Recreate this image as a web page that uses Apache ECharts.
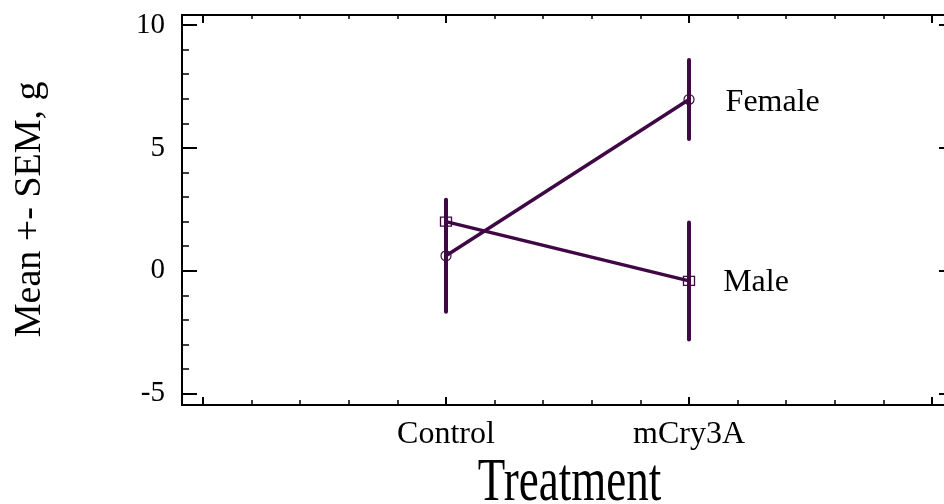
<!DOCTYPE html>
<html>
<head>
<meta charset="utf-8">
<script src="https://cdn.jsdelivr.net/npm/echarts@6/dist/echarts.min.js"></script>
<style>
html, body { margin: 0; padding: 0; background: #fff; }
#main { width: 944px; height: 504px; }
</style>
</head>
<body>
<div id="main"></div>
<script>
// data
const categories = ['Control', 'mCry3A'];
const xPos = [1, 2];
const femaleMean = [0.61, 6.97];
const femaleSem = [2.28, 1.61];
const maleMean = [2.0, -0.41];
const maleSem = [0.85, 2.38];

const serif = '"Liberation Serif", "Times New Roman", serif';
const ink = '#3f0845';

function points (means) {
  return xPos.map((x, i) => [x, means[i]]);
}
function bars (means, sems) {
  return xPos.map((x, i) => [x, means[i] - sems[i], means[i] + sems[i]]);
}

// axis with ticks only (frame is drawn by grid 1)
function tickAxis (extra) {
  return Object.assign({
    type: 'value',
    gridIndex: 0,
    axisLine: { show: false, onZero: false },
    splitLine: { show: false },
    axisLabel: { show: false },
    axisTick: { show: true, inside: true, length: 8, lineStyle: { color: '#000', width: 2 } },
    minorTick: { show: true, splitNumber: 5, length: 4, lineStyle: { color: '#000', width: 1.5 } }
  }, extra);
}

let option = {
  animation: false,
  backgroundColor: '#fff',
  grid: [
    { left: 203, right: 12, top: 25, bottom: 110.3, outerBoundsMode: 'none', containLabel: false },
    { left: 182, top: 15, width: 772, height: 390, outerBoundsMode: 'none', containLabel: false,
      show: true, borderColor: '#000', borderWidth: 2 }
  ],
  xAxis: [
    tickAxis({
      position: 'bottom', offset: 11.3, min: 0, max: 3, interval: 1,
      axisTick: { show: true, inside: true, length: 8, lineStyle: { color: '#000', width: 2 } },
      minorTick: { show: true, splitNumber: 5, length: 5, lineStyle: { color: '#000', width: 1.5 } },
      axisLabel: {
        show: true, margin: 14, color: '#000', fontFamily: serif, fontSize: 32,
        formatter: v => { const i = xPos.indexOf(v); return i >= 0 ? categories[i] : ''; }
      }
    }),
    tickAxis({ position: 'top', offset: 10, min: 0, max: 3, interval: 1 }),
    { type: 'value', gridIndex: 1, show: false, min: 0, max: 1 }
  ],
  yAxis: [
    tickAxis({
      position: 'left', offset: 21, min: -5, max: 10, interval: 5,
      axisTick: { show: true, inside: true, length: 15, lineStyle: { color: '#000', width: 2 } },
      minorTick: { show: true, splitNumber: 5, length: 7, lineStyle: { color: '#000', width: 1.5 } },
      axisLabel: { show: true, margin: 17, color: '#000', fontFamily: serif, fontSize: 29 },
      name: 'Mean +- SEM, g',
      nameLocation: 'middle',
      nameGap: 133,
      nameTextStyle: { color: '#000', fontFamily: serif, fontSize: 38 }
    }),
    tickAxis({
      position: 'right', offset: 22, min: -5, max: 10, interval: 5,
      axisTick: { show: true, inside: true, length: 15, lineStyle: { color: '#000', width: 2 } },
      minorTick: { show: true, splitNumber: 5, length: 7, lineStyle: { color: '#000', width: 1.5 } }
    }),
    { type: 'value', gridIndex: 1, show: false, min: 0, max: 1 }
  ],
  graphic: [
    {
      type: 'text',
      x: 569.5,
      y: 484,
      scaleY: 1.37,
      style: {
        text: 'Treatment', x: 0, y: 0, fill: '#000',
        font: '45px ' + serif,
        align: 'center', verticalAlign: 'middle',
        textAlign: 'center', textVerticalAlign: 'middle'
      }
    }
  ],
  series: [
    {
      name: 'Female',
      type: 'line',
      data: points(femaleMean).map((p, i) => i === xPos.length - 1
        ? { value: p, label: { show: true, position: 'right', distance: 31, offset: [0, 3], formatter: 'Female' } }
        : p),
      symbol: 'circle',
      symbolSize: 10,
      itemStyle: { color: 'transparent', borderColor: ink, borderWidth: 1.2 },
      lineStyle: { color: ink, width: 3.5 },
      label: { color: '#000', fontFamily: serif, fontSize: 32 },
      z: 3
    },
    {
      name: 'Male',
      type: 'line',
      data: points(maleMean).map((p, i) => i === xPos.length - 1
        ? { value: p, label: { show: true, position: 'right', distance: 28, offset: [0, 2], formatter: 'Male' } }
        : p),
      symbol: 'rect',
      symbolSize: [11, 9],
      itemStyle: { color: 'transparent', borderColor: ink, borderWidth: 1.2 },
      lineStyle: { color: ink, width: 3.5 },
      label: { color: '#000', fontFamily: serif, fontSize: 32 },
      z: 3
    },
    {
      name: 'SEM',
      type: 'custom',
      data: bars(femaleMean, femaleSem).concat(bars(maleMean, maleSem)),
      renderItem: function (params, api) {
        const lo = api.coord([api.value(0), api.value(1)]);
        const hi = api.coord([api.value(0), api.value(2)]);
        return {
          type: 'line',
          shape: { x1: lo[0], y1: lo[1], x2: hi[0], y2: hi[1] },
          style: { stroke: ink, lineWidth: 4, lineCap: 'round' }
        };
      },
      z: 4
    }
  ]
};

let myChart = echarts.init(document.getElementById('main'));
myChart.setOption(option);
</script>
</body>
</html>
